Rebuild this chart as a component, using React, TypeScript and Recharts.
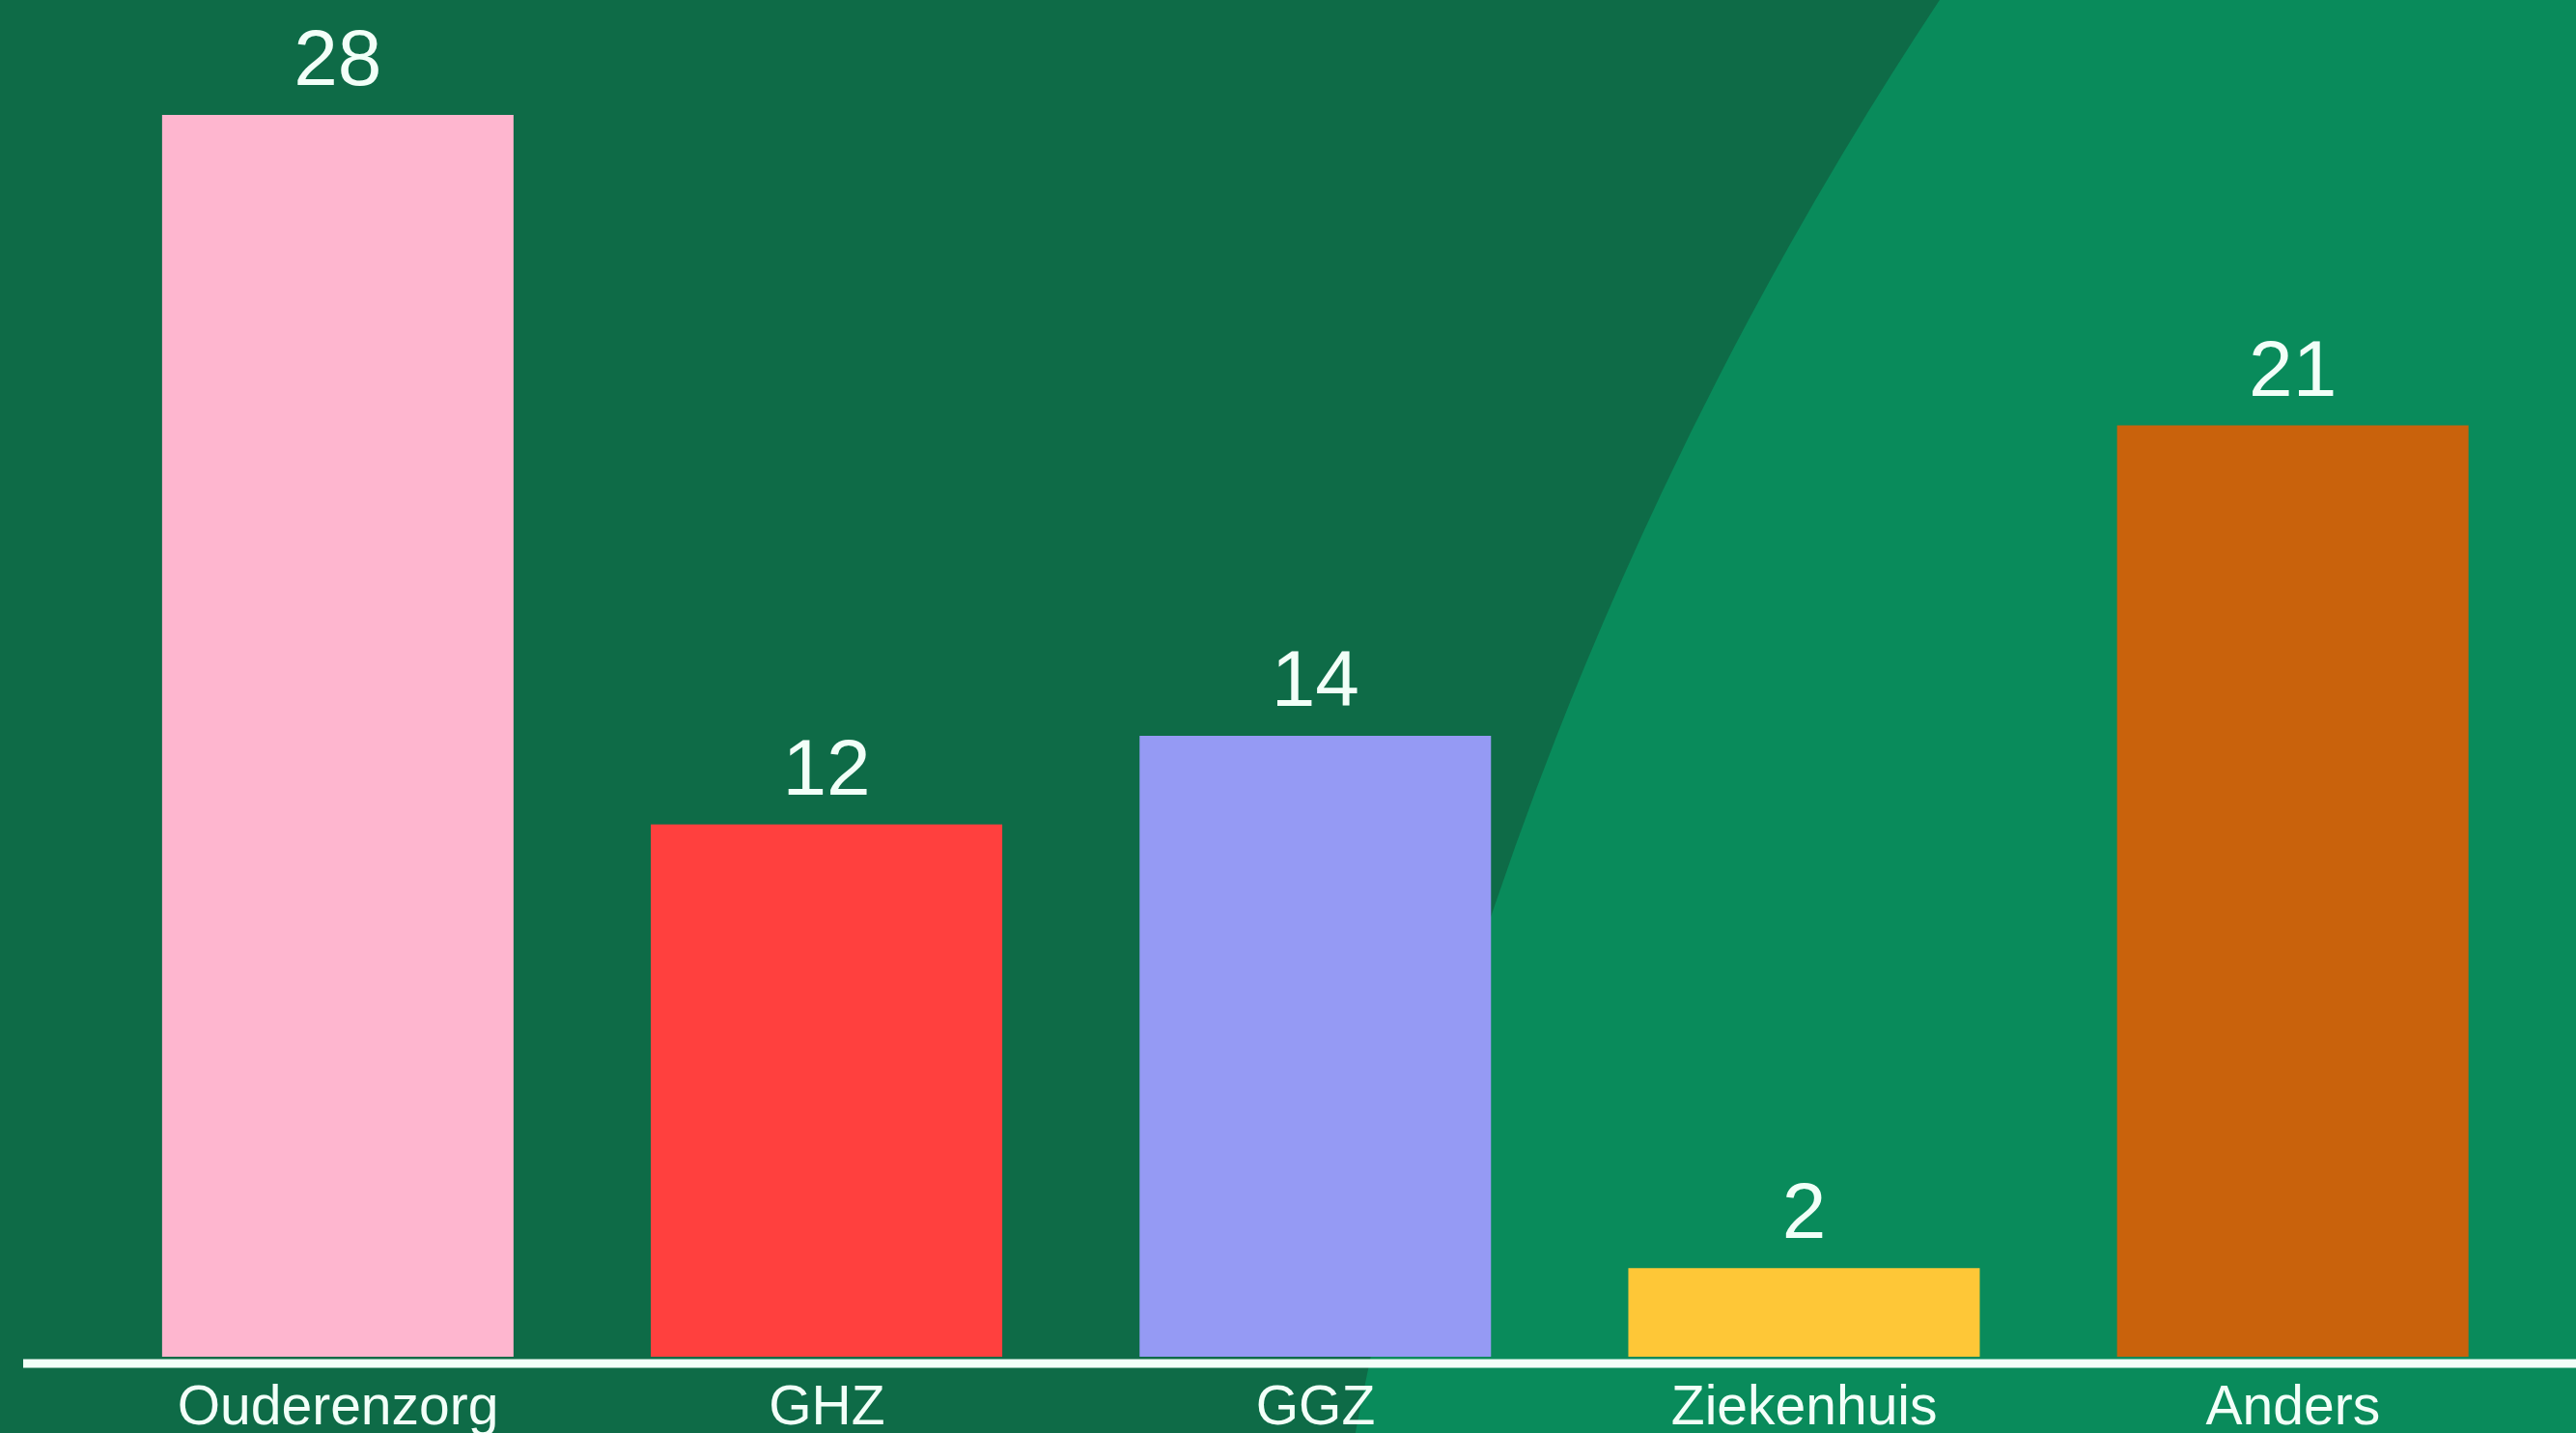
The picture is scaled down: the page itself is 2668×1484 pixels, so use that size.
import { Bar, BarChart, Cell, LabelList, XAxis, YAxis } from "recharts";

const sectors = ["Ouderenzorg", "GHZ", "GGZ", "Ziekenhuis", "Anders"];
const counts = [28, 12, 14, 2, 21];
const barColors = ["#FEB6CF", "#FF403E", "#959AF4", "#FEC737", "#C9620C"];

const data = sectors.map((name, i) => ({ name, value: counts[i] }));

const textColor = "#F2FFF8";

export default function App() {
  return (
    <div
      style={{
        position: "absolute",
        left: 0,
        top: 0,
        width: 2668,
        height: 1484,
        overflow: "hidden",
        background: "#0E6B47",
      }}
    >
      {/* big lighter circle in the background */}
      <div
        style={{
          position: "absolute",
          left: 5390 - 4058,
          top: 2244 - 4058,
          width: 4058 * 2,
          height: 4058 * 2,
          borderRadius: "50%",
          background: "#098B5B",
        }}
      />
      <div style={{ position: "absolute", left: 0, top: 0 }}>
        <BarChart
          width={2668}
          height={1484}
          data={data}
          margin={{ top: 119, right: 0, bottom: 0, left: 24 }}
          barCategoryGap="14%"
        >
          <YAxis hide domain={[0, 28]} />
          <XAxis
            dataKey="name"
            height={79}
            padding={{ left: 73, right: 40 }}
            tickLine={false}
            tickMargin={24}
            axisLine={{ stroke: textColor, strokeWidth: 9, transform: "translate(0, 7)" }}
            tick={{ fill: textColor, fontSize: 57, fontFamily: "Liberation Sans, Arial, sans-serif" }}
            interval={0}
          />
          <Bar dataKey="value" isAnimationActive={false}>
            {data.map((d, i) => (
              <Cell key={d.name} fill={barColors[i]} />
            ))}
            <LabelList
              dataKey="value"
              position="top"
              offset={31}
              fill={textColor}
              fontSize={82}
              fontFamily="Liberation Sans, Arial, sans-serif"
              isAnimationActive={false}
            />
          </Bar>
        </BarChart>
      </div>
    </div>
  );
}
